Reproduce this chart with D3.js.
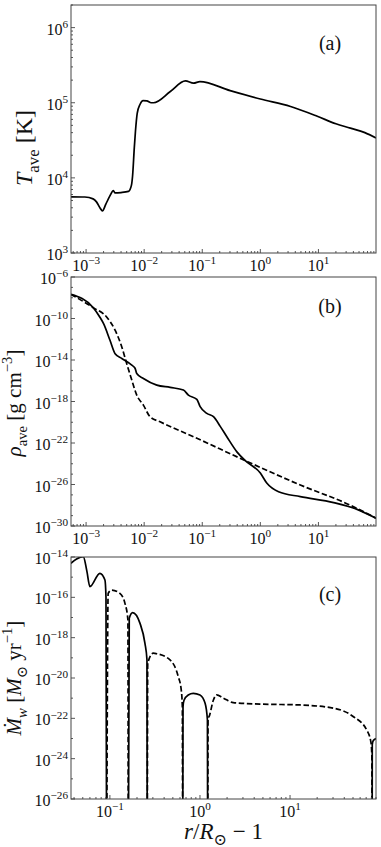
<!DOCTYPE html>
<html><head><meta charset="utf-8">
<script src="https://cdn.jsdelivr.net/npm/d3@7"></script>
<style>
body{margin:0;background:#fff}
</style>
</head><body>
<svg id="fig" width="381" height="847" font-family="'Liberation Serif', 'DejaVu Serif', 'Noto Serif', serif"></svg>
<script>
// ---------- data ----------
// panel (a): average temperature
const tempX = [5.5e-4, 9.5e-4, 1.32e-3, 1.51e-3, 1.74e-3, 1.91e-3, 2.19e-3, 2.57e-3, 2.95e-3, 3.16e-3, 3.98e-3, 5.37e-3, 6.03e-3, 6.31e-3, 6.76e-3, 7.08e-3, 7.59e-3, 8.51e-3, 9.55e-3, 1.11e-2, 1.32e-2, 1.45e-2, 2.82e-2, 5.13e-2, 7.08e-2, 9.12e-2, 0.302, 1.0, 3.31, 9.55, 20, 35.5, 63, 98];
const tempT = [5600, 5560, 5250, 4790, 3980, 3630, 4470, 5750, 6760, 6310, 6380, 6610, 7940, 10500, 25100, 41700, 72400, 95500, 107000, 106000, 100000, 100000, 141000, 195000, 182000, 191000, 145000, 112000, 89100, 66100, 52500, 46000, 40000, 34000];

// panel (b): average density, solid and dashed
const rhoSolidX = [5.5e-4, 1.33e-3, 1.74e-3, 2.0e-3, 2.58e-3, 3.16e-3, 4.12e-3, 6.12e-3, 6.97e-3, 7.45e-3, 9.7e-3, 1.65e-2, 2.8e-2, 4.74e-2, 5.78e-2, 8.07e-2, 9.2e-2, 0.12, 0.156, 0.204, 0.265, 0.395, 0.55, 1.0, 1.3, 2.06, 4.88, 18.3, 46.3, 98];
const rhoSolid = [2.1e-8, 1.1e-9, 1.26e-10, 3.2e-11, 7.9e-13, 4.0e-14, 1.4e-14, 3.2e-15, 1.6e-15, 5.0e-16, 1.66e-16, 3.8e-17, 2.3e-17, 1.26e-17, 4.1e-18, 1.6e-18, 3.2e-19, 7.1e-20, 3.4e-20, 4.0e-21, 4.0e-22, 1.4e-23, 2.0e-24, 1.26e-25, 1.3e-26, 2.0e-27, 6.8e-28, 1.8e-28, 4.0e-29, 5.6e-30];
const rhoDashX = [5.5e-4, 1.33e-3, 2.26e-3, 3.16e-3, 4.12e-3, 5.0e-3, 6.12e-3, 7.45e-3, 9.7e-3, 1.26e-2, 1.88e-2, 7.08e-2, 0.55, 4.88, 35.5, 98];
const rhoDash = [2.1e-8, 1.1e-9, 1.4e-10, 7.4e-12, 1.8e-13, 4.6e-15, 1.15e-16, 4.1e-18, 4.5e-19, 3.4e-20, 1.1e-20, 4.0e-22, 2.0e-24, 8.9e-27, 1.0e-28, 5.6e-30];

// panel (c): mass-loss rate (signed: + solid, - dashed, 0 = sign change)
const mdotX = [0.0369, 0.0427, 0.0506, 0.0555, 0.060, 0.0774, 0.0881, 0.0905, 0.092,
  0.0957, 0.1045, 0.129, 0.147, 0.1585, 0.16,
  0.164, 0.179, 0.216, 0.245, 0.258, 0.26,
  0.263, 0.303, 0.33, 0.465, 0.574, 0.62, 0.637, 0.643,
  0.648, 0.665, 0.741, 0.843, 1.0, 1.14, 1.21, 1.22,
  1.23, 1.26, 1.41, 1.53, 1.82, 2.34, 4.65, 12.9, 30.3, 50.6, 71.1, 78.9, 80.9, 81.5,
  81.8, 84, 90];
const mdot = [4.9e-15, 7.9e-15, 1.05e-14, 2.0e-15, 3.4e-16, 1.55e-15, 7.2e-16, 1.0e-16, 0,
  -1.58e-16, -2.3e-16, -1.58e-16, -5.0e-17, -7.6e-18, 0,
  9.1e-18, 1.74e-17, 5.1e-18, 5.2e-19, 7.9e-20, 0,
  -5.4e-20, -1.7e-19, -1.6e-19, -7.9e-20, -1.17e-20, -2.5e-21, -3.8e-22, 0,
  3.8e-22, 7.9e-22, 1.45e-21, 1.74e-21, 1.45e-21, 5.6e-22, 8.3e-23, 0,
  -1.0e-22, -1.2e-22, -8.1e-22, -1.45e-21, -1.0e-21, -6.0e-22, -5.1e-22, -4.6e-22, -3.2e-22, -1.2e-22, -2.6e-23, -6.9e-24, -1.6e-24, 0,
  5.0e-24, 7.9e-24, 1.0e-23];

// tick values
const xTicksAB = [1e-3, 1e-2, 1e-1, 1e0, 1e1];
const yTicksA = [1e3, 1e4, 1e5, 1e6];
const yTicksB = [1e-30, 1e-26, 1e-22, 1e-18, 1e-14, 1e-10, 1e-6];
const xTicksC = [1e-1, 1e0, 1e1];
const yTicksC = [1e-26, 1e-24, 1e-22, 1e-20, 1e-18, 1e-16, 1e-14];

// ---------- layout ----------
const svg = d3.select("#fig");
const L = 71, R = 376;
const FRAME = "#444";
const TICKFS = 16, LABFS = 21, PANFS = 20;

function rich(sel, parts, size) {
  let cur = 0;
  parts.forEach(p => {
    const shift = p.sup ? -0.42 * size : (p.sub ? 0.28 * size : 0);
    const ts = sel.append("tspan").text(p.t).attr("dy", shift - cur);
    cur = shift;
    if (p.sup || p.sub) ts.attr("font-size", size * 0.7);
    if (p.i) ts.attr("font-style", "italic");
  });
}
function expParts(v) {
  const e = Math.round(Math.log10(v));
  return [{t: "10"}, {t: (e < 0 ? "\u2212" : "") + Math.abs(e), sup: true}];
}
function minorTicks(domain, everyDecadeOnly, majors) {
  const lo = Math.floor(Math.log10(domain[0])), hi = Math.ceil(Math.log10(domain[1]));
  const out = [];
  for (let e = lo; e <= hi; e++) {
    if (everyDecadeOnly) {
      const v = Math.pow(10, e);
      if (v >= domain[0] && v <= domain[1] && !majors.some(m => Math.abs(Math.log10(m) - e) < 1e-6)) out.push(v);
    } else {
      for (let k = 2; k <= 9; k++) {
        const v = k * Math.pow(10, e);
        if (v >= domain[0] && v <= domain[1]) out.push(v);
      }
    }
  }
  return out;
}

function panel(cfg) {
  const {top, bottom, x, y, xTicks, yTicks, yMinorDecades, id} = cfg;
  const g = svg.append("g");
  g.append("clipPath").attr("id", "clip" + id)
    .append("rect").attr("x", L).attr("y", top).attr("width", R - L).attr("height", bottom - top);

  const lg = g.append("g").attr("clip-path", `url(#clip${id})`);
  cfg.series.forEach(s => {
    const line = d3.line().x(d => x(d[0])).y(d => y(Math.max(d[1], 1e-30))).curve(d3.curveMonotoneX);
    lg.append("path").attr("d", line(s.data)).attr("fill", "none")
      .attr("stroke", "#000").attr("stroke-width", 1.7)
      .attr("stroke-linejoin", "round")
      .attr("stroke-dasharray", s.dashed ? "5.5,2.6" : null);
  });

  const tg = g.append("g").attr("stroke", FRAME).attr("stroke-width", 0.9);
  const xd = x.domain(), yd = y.domain();
  xTicks.forEach(v => tg.append("line").attr("x1", x(v)).attr("x2", x(v)).attr("y1", bottom).attr("y2", bottom - 4));
  minorTicks(xd, false, xTicks).forEach(v => tg.append("line").attr("x1", x(v)).attr("x2", x(v)).attr("y1", bottom).attr("y2", bottom - 2));
  yTicks.forEach(v => tg.append("line").attr("x1", L).attr("x2", L + 4).attr("y1", y(v)).attr("y2", y(v)));
  minorTicks(yd, yMinorDecades, yTicks).forEach(v => tg.append("line").attr("x1", L).attr("x2", L + 2).attr("y1", y(v)).attr("y2", y(v)));

  g.append("rect").attr("x", L).attr("y", top).attr("width", R - L).attr("height", bottom - top)
    .attr("fill", "none").attr("stroke", FRAME).attr("stroke-width", 1);

  xTicks.forEach(v => {
    const t = g.append("text").attr("x", x(v)).attr("y", bottom + 18)
      .attr("text-anchor", "middle").attr("font-size", TICKFS).attr("fill", "#111");
    rich(t, expParts(v), TICKFS);
  });
  yTicks.forEach(v => {
    const t = g.append("text").attr("x", L - 3).attr("y", y(v) + 7)
      .attr("text-anchor", "end").attr("font-size", TICKFS).attr("fill", "#111");
    rich(t, expParts(v), TICKFS);
  });

  const yl = g.append("text").attr("transform", `translate(${cfg.ylabX},${cfg.ylabY}) rotate(-90)`)
    .attr("text-anchor", "middle").attr("font-size", cfg.labfs || LABFS).attr("dy", "0.35em").attr("fill", "#111");
  rich(yl, cfg.ylab, cfg.labfs || LABFS);

  g.append("text").attr("x", 330).attr("y", top + cfg.tagDy).attr("text-anchor", "middle")
    .attr("font-size", PANFS).attr("fill", "#111").text(cfg.tag);
}

// scales
const xAB = d3.scaleLog().domain([5.5e-4, 98]).range([L, R]);
const yA = d3.scaleLog().domain([1e3, 2e6]).range([253, 5]);
const yB = d3.scaleLog().domain([1e-30, 1e-6]).range([526, 277]);
const xC = d3.scaleLog().domain([0.037, 90]).range([L, R]);
const yC = d3.scaleLog().domain([1e-26, 1e-14]).range([799, 557]);

const zip = (a, b) => a.map((v, i) => [v, b[i]]);
const segs = [];
let curSeg = null;
mdotX.forEach((xv, i) => {
  const v = mdot[i];
  if (v === 0) {
    if (curSeg) { curSeg.data.push([xv, 0]); segs.push(curSeg); }
    curSeg = {dashed: null, data: [[xv, 0]]};
  } else {
    if (!curSeg) curSeg = {dashed: v < 0, data: []};
    if (curSeg.dashed === null) curSeg.dashed = v < 0;
    curSeg.data.push([xv, Math.abs(v)]);
  }
});
if (curSeg) segs.push(curSeg);

panel({id: "a", top: 5, bottom: 253, x: xAB, y: yA, xTicks: xTicksAB, yTicks: yTicksA, yMinorDecades: false,
  series: [{dashed: false, data: zip(tempX, tempT)}],
  ylab: [{t: "T", i: true}, {t: "ave", sub: true}, {t: " [K]"}], ylabX: 32, ylabY: 148, labfs: 24, tag: "(a)", tagDy: 45});

panel({id: "b", top: 277, bottom: 526, x: xAB, y: yB, xTicks: xTicksAB, yTicks: yTicksB, yMinorDecades: true,
  series: [{dashed: false, data: zip(rhoSolidX, rhoSolid)}, {dashed: true, data: zip(rhoDashX, rhoDash)}],
  ylab: [{t: "\u03C1", i: true}, {t: "ave", sub: true}, {t: " [g cm"}, {t: "\u22123", sup: true}, {t: "]"}], ylabX: 21, ylabY: 403, tag: "(b)", tagDy: 36});

panel({id: "c", top: 557, bottom: 799, x: xC, y: yC, xTicks: xTicksC, yTicks: yTicksC, yMinorDecades: true,
  series: segs,
  ylab: [{t: "\u1E40", i: true}, {t: "w", sub: true, i: true}, {t: " ["}, {t: "M", i: true}, {t: "\u2299", sub: true}, {t: " yr"}, {t: "\u22121", sup: true}, {t: "]"}], ylabX: 21, ylabY: 678, tag: "(c)", tagDy: 44});

const xl = svg.append("text").attr("x", (L + R) / 2).attr("y", 839).attr("text-anchor", "middle").attr("font-size", 23).attr("fill", "#111");
rich(xl, [{t: "r", i: true}, {t: "/"}, {t: "R", i: true}, {t: "\u2299", sub: true}, {t: " \u2212 1"}], 23);
</script>
</body></html>
